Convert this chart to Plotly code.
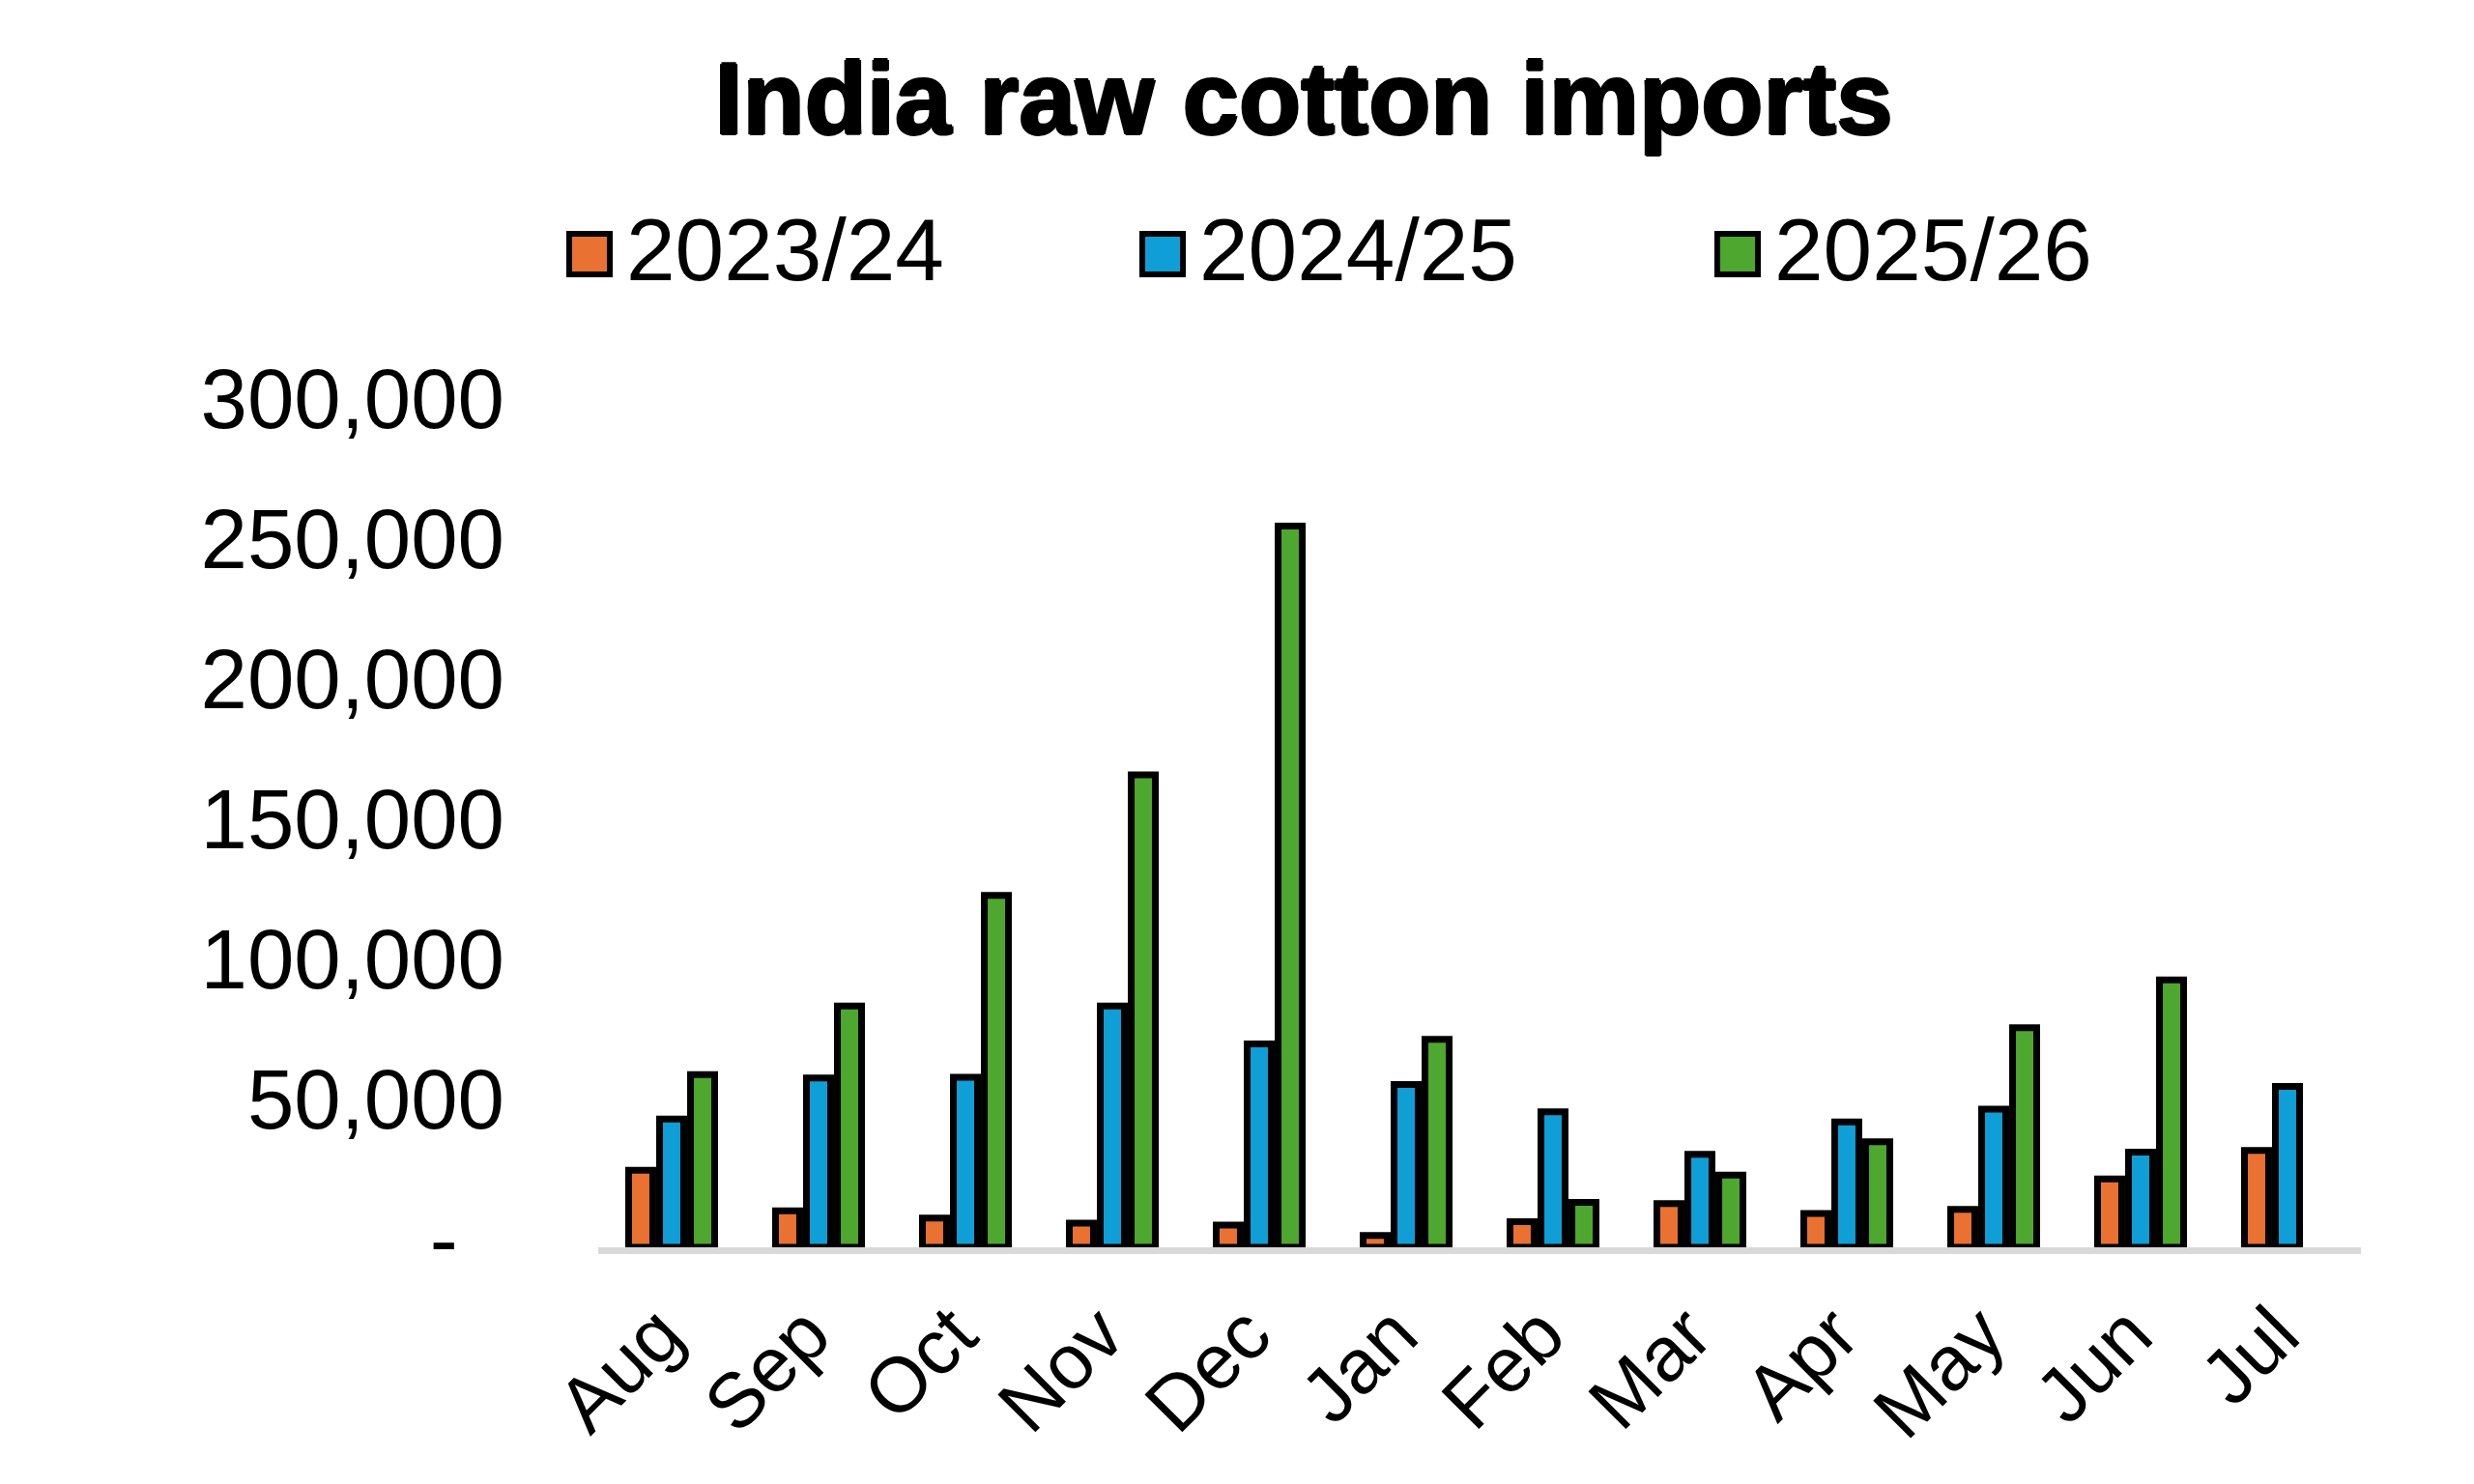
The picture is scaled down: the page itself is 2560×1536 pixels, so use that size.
import plotly.graph_objects as go

months = ["Aug", "Sep", "Oct", "Nov", "Dec", "Jan", "Feb", "Mar", "Apr", "May", "Jun", "Jul"]
series_names = ["2023/24", "2024/25", "2025/26"]
v_2023_24 = [27500, 13000, 10400, 8600, 7900, 4200, 9100, 15600, 12100, 13500, 24400, 34600]
v_2024_25 = [45800, 60400, 60700, 86100, 72600, 58100, 48400, 33200, 44700, 49300, 34000, 57400]
v_2025_26 = [61600, 86100, 125600, 168600, 257400, 74200, 16000, 25800, 37700, 78400, 95400, None]
colors = ["#E97132", "#0F9ED5", "#4EA72E"]
y_tickvals = [0, 50000, 100000, 150000, 200000, 250000, 300000]
y_ticktext = ["-\u00a0\u00a0", "50,000", "100,000", "150,000", "200,000", "250,000", "300,000"]

W, H = 2560, 1536
L, R, T, B = 611, 2435, 413, 1283  # plot area in pixels

def px_x(p):
    return (p - L) / (R - L)

def px_y(p):
    return (B - p) / (B - T)

FONT = "Liberation Sans, Arial, sans-serif"

fig = go.Figure()
for name, vals, col in zip(series_names, [v_2023_24, v_2024_25, v_2025_26], colors):
    fig.add_trace(go.Bar(
        x=months, y=vals, name=name,
        marker=dict(color=col, line=dict(color="black", width=7)),
        showlegend=False,
    ))

# manual legend (large swatches)
shapes = []
annotations = []
legend_left = [578, 1171, 1766]
for name, col, x0 in zip(series_names, colors, legend_left):
    shapes.append(dict(type="rect", xref="paper", yref="paper",
                       x0=px_x(x0 + 3), x1=px_x(x0 + 45), y0=px_y(276), y1=px_y(234),
                       fillcolor=col, line=dict(color="black", width=6), layer="above"))
    annotations.append(dict(text=name, xref="paper", yref="paper",
                            x=px_x(x0 + 60), y=px_y(250), xanchor="left", yanchor="middle",
                            showarrow=False, font=dict(family=FONT, size=91, color="black")))

bold_shadow = "1.5px 0px 0px black, -1.5px 0px 0px black, 0px 1.5px 0px black, 0px -1.5px 0px black"

fig.update_layout(
    width=W, height=H,
    margin=dict(l=L, r=W - R, t=T, b=H - B, autoexpand=False),
    paper_bgcolor="white", plot_bgcolor="white",
    barmode="group", bargap=0.368, bargroupgap=0.22,
    title=dict(text="<b>India raw cotton imports</b>", x=1341 / W, xanchor="center",
               xref="container", yref="container", y=1 - 94 / H, yanchor="middle",
               font=dict(family=FONT, size=105, color="black", shadow=bold_shadow)),
    shapes=shapes, annotations=annotations,
    xaxis=dict(showline=True, linecolor="#d9d9d9", linewidth=7, showgrid=False,
               tickangle=-45, tickfont=dict(family=FONT, size=80, color="black"),
               ticks="", ticklabelstandoff=4, ticklabelshift=-12,
               automargin=False, fixedrange=True),
    yaxis=dict(range=[0, 300000], tickvals=y_tickvals, ticktext=y_ticktext,
               showgrid=False, zeroline=False, showline=False, ticks="",
               tickfont=dict(family=FONT, size=87, color="black"),
               ticklabelstandoff=96, ticklabelshift=-8, automargin=False, fixedrange=True),
    showlegend=False,
)

fig.write_html("out.html")
